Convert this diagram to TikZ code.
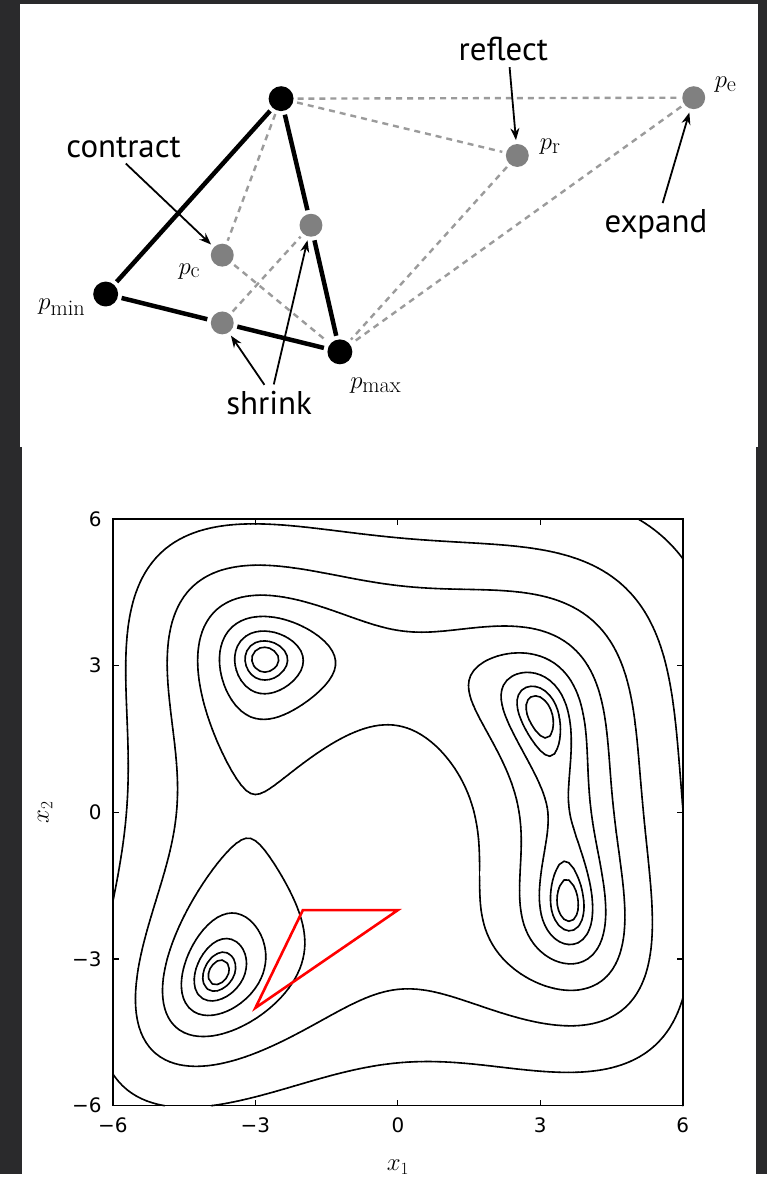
\documentclass[tikz,border=0pt]{standalone}
\usepackage{fontspec}
\newfontfamily\labelfont{PT Sans}
\newfontfamily\tickfont{DejaVu Sans}
\usetikzlibrary{arrows.meta}

\definecolor{bgdark}{RGB}{42,42,44}
\definecolor{ptgray}{RGB}{128,128,128}
\definecolor{dashgray}{RGB}{155,155,155}

\newcount\ncross
% where level #3 cuts the cell edge (#4,#5)--(#6,#7), values #1 and #2 at its ends
\newcommand\crossat[7]{%
  \ifnum\fpeval{((#1)<(#3))+((#2)<(#3))}=1
    \global\advance\ncross by 1
    \edef\tpos{\fpeval{((#3)-(#1))/((#2)-(#1))}}%
    \expandafter\xdef\csname cr\the\ncross\endcsname{(\fpeval{round(#4+\tpos*((#6)-(#4)),4)},\fpeval{round(#5+\tpos*((#7)-(#5)),4)})}%
  \fi}

\begin{document}
\begin{tikzpicture}[x=1pt,y=1pt,
  vtx/.style={circle,fill=black,inner sep=0pt,minimum size=25pt,outer sep=4pt},
  newpt/.style={circle,fill=ptgray,inner sep=0pt,minimum size=23pt,outer sep=4pt},
  side/.style={line width=4.5pt},
  trial/.style={dashgray,line width=2.4pt,dash pattern=on 6pt off 5pt},
  hint/.style={line width=1.8pt,shorten <=3pt,-{Stealth[length=12pt,width=9pt]}},
  word/.style={font=\labelfont\fontsize{33}{38}\selectfont},
  plab/.style={font=\fontsize{32}{38}\selectfont},
  ticklab/.style={font=\tickfont\fontsize{20}{24}\selectfont},
  axlab/.style={font=\fontsize{26}{30}\selectfont},
  isoline/.style={line width=1.6pt,line cap=round},
  simplex/.style={red,line width=2.6pt}]

% background and the two panels
\fill[bgdark] (0,0) rectangle (769,1178);
\fill[white] (20,730) rectangle (760,1174);
\fill[white] (22,0) rectangle (758,730);

% simplex steps
\node[vtx] (top) at (282,1079) {};
\node[vtx] (pmin) at (106,883) {};
\node[vtx] (pmax) at (341,825) {};
\node[newpt] (pr) at (519,1022) {};
\node[newpt] (pe) at (696,1080) {};
\node[newpt] (pc) at (223,922) {};
\node[newpt] (mtop) at (312,952) {};
\node[newpt] (mbot) at (223,854) {};

\draw[trial] (top) -- (pe);
\draw[trial] (top) -- (pr);
\draw[trial] (pr) -- (pmax);
\draw[trial] (pe) -- (pmax);
\draw[trial] (top) -- (pc);
\draw[trial] (pc) -- (pmax);
\draw[trial] (mbot) -- (mtop);

\draw[side] (top) -- (pmin);
\draw[side] (top) -- (mtop);
\draw[side] (mtop) -- (pmax);
\draw[side] (pmin) -- (mbot);
\draw[side] (mbot) -- (pmax);

\node[plab] (lmin) at (62,870) {$p_{\mathrm{min}}$};
\node[plab] (lmax) at (377,791) {$p_{\mathrm{max}}$};
\node[plab] (lc) at (190,906) {$p_{\mathrm{c}}$};
\node[plab] (lr) at (552,1031) {$p_{\mathrm{r}}$};
\node[plab] (le) at (728,1093) {$p_{\mathrm{e}}$};

\node[word] (contract) at (124,1030) {contract};
\node[word] (reflect) at (505,1129) {reflect};
\node[word] (expand) at (658,953) {expand};
\node[word] (shrink) at (270,774) {shrink};

\draw[hint] (contract.south) -- (pc);
\draw[hint] ([xshift=6pt]reflect.south) -- (pr);
\draw[hint] ([xshift=6pt]expand.north) -- (pe);
\draw[hint] ([xshift=-3pt]shrink.north) -- (mbot);
\draw[hint] ([xshift=4pt]shrink.north) -- (mtop);

% contour plot of Himmelblau's function
\begin{scope}[shift={(399.15,363)},x=47.64pt,y=49.05pt]
  % table of 2.5 log10 f on a 0.1 grid
  \foreach \i in {0,...,120}{
    \foreach \j in {0,...,120}{
      \edef\xx{\fpeval{-6+\i/10}}\edef\yy{\fpeval{-6+\j/10}}%
      \edef\ua{\fpeval{(\xx)*(\xx)+(\yy)-11}}\edef\ub{\fpeval{(\xx)+(\yy)*(\yy)-7}}%
      \expandafter\xdef\csname hg\i:\j\endcsname{\fpeval{round(1.0857362*ln(max((\ua)*(\ua)+(\ub)*(\ub),0.0001)),5)}}%
    }}
  % levels 10^(0.4k), k=1..8, cell by cell
  \foreach \i in {0,...,119}{
    \foreach \j in {0,...,119}{
      \edef\ga{\csname hg\i:\j\endcsname}%
      \edef\gb{\csname hg\the\numexpr\i+1\relax:\j\endcsname}%
      \edef\gc{\csname hg\the\numexpr\i+1\relax:\the\numexpr\j+1\relax\endcsname}%
      \edef\gd{\csname hg\i:\the\numexpr\j+1\relax\endcsname}%
      \edef\klo{\fpeval{max(floor(min(\ga,\gb,\gc,\gd))+1,1)}}%
      \edef\khi{\fpeval{min(floor(max(\ga,\gb,\gc,\gd)),8)}}%
      \ifnum\klo>\khi\relax\else
        \edef\xa{\fpeval{-6+\i/10}}\edef\xb{\fpeval{-5.9+\i/10}}%
        \edef\ya{\fpeval{-6+\j/10}}\edef\yb{\fpeval{-5.9+\j/10}}%
        \foreach \k in {\klo,...,\khi}{%
          \global\ncross=0
          \crossat{\ga}{\gb}{\k}{\xa}{\ya}{\xb}{\ya}%
          \crossat{\gb}{\gc}{\k}{\xb}{\ya}{\xb}{\yb}%
          \crossat{\gd}{\gc}{\k}{\xa}{\yb}{\xb}{\yb}%
          \crossat{\ga}{\gd}{\k}{\xa}{\ya}{\xa}{\yb}%
          \ifnum\ncross>1
            \edef\seg{\noexpand\draw[isoline] \csname cr1\endcsname -- \csname cr2\endcsname;}\seg
          \fi
          \ifnum\ncross>3
            \edef\seg{\noexpand\draw[isoline] \csname cr3\endcsname -- \csname cr4\endcsname;}\seg
          \fi
        }%
      \fi
    }}

  \draw[simplex] (-2,-2) -- (0,-2) -- (-3,-4) -- cycle;

  \draw[line width=1.5pt] (-6,-6) rectangle (6,6);
  \foreach \t in {-3,0,3}{
    \draw[line width=1.2pt] (\t,-6) -- ++(0,6pt);
    \draw[line width=1.2pt] (\t,6) -- ++(0,-6pt);
    \draw[line width=1.2pt] (-6,\t) -- ++(6pt,0);
    \draw[line width=1.2pt] (6,\t) -- ++(-6pt,0);
  }
  \foreach \t/\s in {-6/−6,-3/−3,0/0,3/3,6/6}{
    \node[ticklab,yshift=-20pt] (xt\t) at (\t,-6) {\s};
    \node[ticklab,anchor=east,xshift=-8pt] (yt\t) at (-6,\t) {\s};
  }
  \node[axlab] (xone) at ([yshift=-62pt]0,-6) {$x_1$};
  \node[axlab,rotate=90] (xtwo) at ([xshift=-68pt]-6,0) {$x_2$};
\end{scope}
\end{tikzpicture}
\end{document}
